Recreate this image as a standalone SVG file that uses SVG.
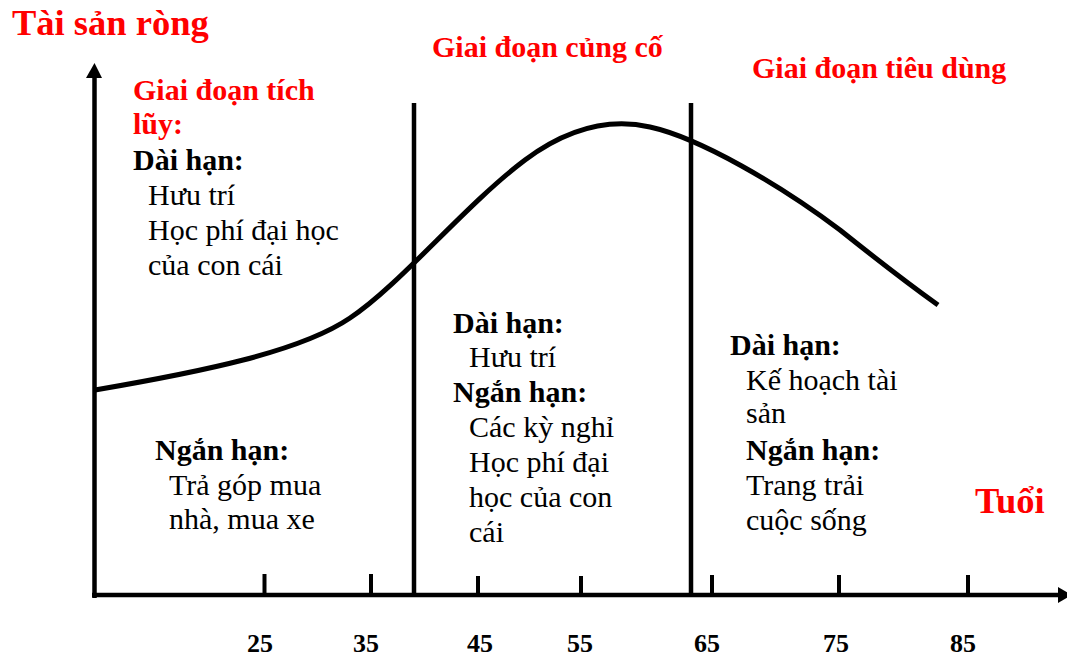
<svg xmlns="http://www.w3.org/2000/svg" width="1067" height="659" viewBox="0 0 1067 659">
<style>
text{font-family:'Liberation Serif','DejaVu Serif',serif;fill:#000}
.red{fill:#ff0000;font-weight:bold;font-size:30px}
.big{fill:#ff0000;font-weight:bold;font-size:36.5px}
.h{font-weight:bold;font-size:30px}
.t{font-size:30px}
.n{font-weight:bold;font-size:26px;text-anchor:middle}
.ax{stroke:#000;stroke-width:4.5;fill:none}
.tk{stroke:#000;stroke-width:4;fill:none}
</style>
<rect width="1067" height="659" fill="#fff"/>
<g id="axes">
<line class="ax" x1="94.5" y1="598" x2="94.5" y2="76"/>
<polygon points="86,78 102,78 94.5,63"/>
<line class="ax" x1="92" y1="595" x2="1060" y2="595"/>
<polygon points="1058,587 1058,603 1072,595"/>
<line class="tk" x1="264.5" y1="574" x2="264.5" y2="595"/>
<line class="tk" x1="371" y1="574" x2="371" y2="595"/>
<line class="tk" x1="478" y1="576" x2="478" y2="595"/>
<line class="tk" x1="581" y1="576" x2="581" y2="595"/>
<line class="tk" x1="712" y1="575" x2="712" y2="595"/>
<line class="tk" x1="839" y1="575" x2="839" y2="595"/>
<line class="tk" x1="968" y1="575" x2="968" y2="595"/>
</g>
<g id="separators">
<line class="ax" x1="414" y1="103" x2="414" y2="597"/>
<line class="ax" x1="691" y1="103" x2="691" y2="597"/>
</g>
<g id="curve">
<path d="M95,390 C200,372 300,352 350,318 C400,285 465,205 525,160 C568,128 610,118 650,127 C700,138 780,185 840,230 C880,262 910,285 938,305" fill="none" stroke="#000" stroke-width="5"/>
</g>
<g id="axis-labels">
<text class="big" x="12" y="35">Tài sản ròng</text>
<text class="big" x="975" y="513">Tuổi</text>
<text class="n" x="260" y="652">25</text>
<text class="n" x="366" y="652">35</text>
<text class="n" x="480" y="652">45</text>
<text class="n" x="580" y="652">55</text>
<text class="n" x="707" y="652">65</text>
<text class="n" x="836" y="652">75</text>
<text class="n" x="963" y="652">85</text>
</g>
<g id="stage1">
<text class="red" x="133" y="100">Giai đoạn tích</text>
<text class="red" x="133" y="134">lũy:</text>
<text class="h" x="133" y="170">Dài hạn:</text>
<text class="t" x="148" y="205">Hưu trí</text>
<text class="t" x="148" y="240">Học phí đại học</text>
<text class="t" x="148" y="275">của con cái</text>
<text class="h" x="155" y="460">Ngắn hạn:</text>
<text class="t" x="169" y="495">Trả góp mua</text>
<text class="t" x="169" y="529">nhà, mua xe</text>
</g>
<g id="stage2">
<text class="red" x="432" y="57">Giai đoạn củng cố</text>
<text class="h" x="453" y="333">Dài hạn:</text>
<text class="t" x="469" y="367">Hưu trí</text>
<text class="h" x="453" y="402">Ngắn hạn:</text>
<text class="t" x="469" y="437">Các kỳ nghỉ</text>
<text class="t" x="469" y="472">Học phí đại</text>
<text class="t" x="469" y="507">học của con</text>
<text class="t" x="469" y="542">cái</text>
</g>
<g id="stage3">
<text class="red" x="752" y="78">Giai đoạn tiêu dùng</text>
<text class="h" x="730" y="355">Dài hạn:</text>
<text class="t" x="746" y="390">Kế hoạch tài</text>
<text class="t" x="746" y="423">sản</text>
<text class="h" x="746" y="460">Ngắn hạn:</text>
<text class="t" x="746" y="495">Trang trải</text>
<text class="t" x="746" y="530">cuộc sống</text>
</g>
</svg>
